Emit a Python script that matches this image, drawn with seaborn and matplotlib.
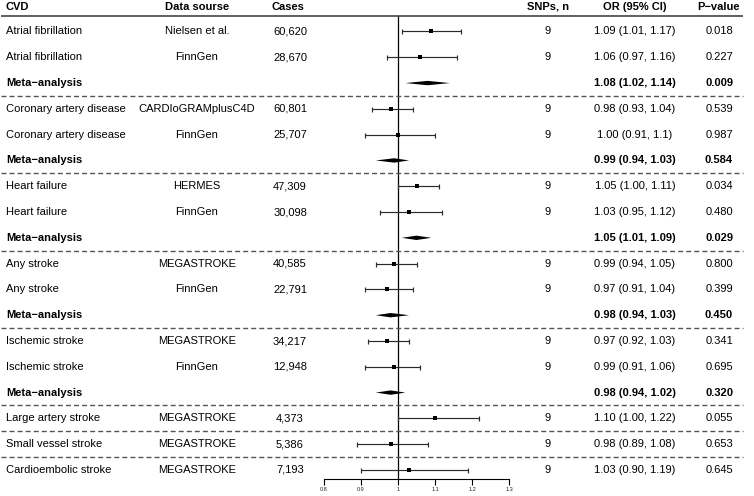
import matplotlib
import matplotlib.pyplot as plt
import matplotlib.transforms as mtransforms
import pandas as pd
import seaborn as sns

matplotlib.use("Agg")

# table columns, one entry per row
cvd = ["Atrial fibrillation", "Atrial fibrillation", "Meta−analysis",
       "Coronary artery disease", "Coronary artery disease", "Meta−analysis",
       "Heart failure", "Heart failure", "Meta−analysis",
       "Any stroke", "Any stroke", "Meta−analysis",
       "Ischemic stroke", "Ischemic stroke", "Meta−analysis",
       "Large artery stroke", "Small vessel stroke", "Cardioembolic stroke"]
source = ["Nielsen et al.", "FinnGen", "", "CARDIoGRAMplusC4D", "FinnGen", "",
          "HERMES", "FinnGen", "", "MEGASTROKE", "FinnGen", "",
          "MEGASTROKE", "FinnGen", "", "MEGASTROKE", "MEGASTROKE", "MEGASTROKE"]
cases = ["60,620", "28,670", "", "60,801", "25,707", "", "47,309", "30,098", "",
         "40,585", "22,791", "", "34,217", "12,948", "", "4,373", "5,386", "7,193"]
snps = ["9", "9", "", "9", "9", "", "9", "9", "", "9", "9", "", "9", "9", "", "9", "9", "9"]
or_est = [1.09, 1.06, 1.08, 0.98, 1.00, 0.99, 1.05, 1.03, 1.05,
          0.99, 0.97, 0.98, 0.97, 0.99, 0.98, 1.10, 0.98, 1.03]
or_lo = [1.01, 0.97, 1.02, 0.93, 0.91, 0.94, 1.00, 0.95, 1.01,
         0.94, 0.91, 0.94, 0.92, 0.91, 0.94, 1.00, 0.89, 0.90]
or_hi = [1.17, 1.16, 1.14, 1.04, 1.10, 1.03, 1.11, 1.12, 1.09,
         1.05, 1.04, 1.03, 1.03, 1.06, 1.02, 1.22, 1.08, 1.19]
or_text = ["1.09 (1.01, 1.17)", "1.06 (0.97, 1.16)", "1.08 (1.02, 1.14)",
           "0.98 (0.93, 1.04)", "1.00 (0.91, 1.1)", "0.99 (0.94, 1.03)",
           "1.05 (1.00, 1.11)", "1.03 (0.95, 1.12)", "1.05 (1.01, 1.09)",
           "0.99 (0.94, 1.05)", "0.97 (0.91, 1.04)", "0.98 (0.94, 1.03)",
           "0.97 (0.92, 1.03)", "0.99 (0.91, 1.06)", "0.98 (0.94, 1.02)",
           "1.10 (1.00, 1.22)", "0.98 (0.89, 1.08)", "1.03 (0.90, 1.19)"]
p_value = ["0.018", "0.227", "0.009", "0.539", "0.987", "0.584", "0.034", "0.480", "0.029",
           "0.800", "0.399", "0.450", "0.341", "0.695", "0.320", "0.055", "0.653", "0.645"]
headers = ["CVD", "Data sourse", "Cases", "SNPs, n", "OR (95% CI)", "P−value"]
x_ticks = [0.8, 0.9, 1.0, 1.1, 1.2, 1.3]
tick_labels = ["0.8", "0.9", "1", "1.1", "1.2", "1.3"]
group_breaks = [2, 5, 8, 11, 14, 15, 16]

df = pd.DataFrame({"cvd": cvd, "est": or_est, "lo": or_lo, "hi": or_hi})
df["row"] = range(len(df))
df["meta"] = df["cvd"].str.startswith("Meta")
studies = df[~df["meta"]]
metas = df[df["meta"]]

sns.set_theme(style="white")
plt.rcParams["font.family"] = ["Liberation Sans", "DejaVu Sans"]

W, H = 754, 496
fig = plt.figure(figsize=(W / 100, H / 100), dpi=100)
ax = fig.add_axes([324 / W, 1 - 479 / H, (509 - 324) / W, (479 - 16) / H])
ax.set_xlim(0.8, 1.3)
ax.set_ylim(17.35, -0.6)

# forest marks
ax.errorbar(studies["est"], studies["row"],
            xerr=[studies["est"] - studies["lo"], studies["hi"] - studies["est"]],
            fmt="none", ecolor="#2b2b2b", elinewidth=0.85, capsize=1.8, capthick=0.85,
            clip_on=False, zorder=2)
sns.scatterplot(data=studies, x="est", y="row", marker="s", s=9, color="black",
                edgecolor="black", linewidth=0, ax=ax, zorder=3, clip_on=False, legend=False)
for _, r in metas.iterrows():
    h = 0.085
    ax.fill([r["lo"], r["est"], r["hi"], r["est"]],
            [r["row"], r["row"] - h, r["row"], r["row"] + h],
            color="black", lw=0, zorder=3, clip_on=False)
ax.axvline(1, color="black", lw=0.9, zorder=1)

# x axis
sns.despine(ax=ax, left=True, top=True, right=True)
ax.spines["bottom"].set_color("black")
ax.spines["bottom"].set_linewidth(0.8)
ax.set_xticks(x_ticks)
ax.set_xticklabels(tick_labels, fontsize=4)
ax.tick_params(axis="x", direction="out", length=4, width=0.8, color="black", pad=1.5,
               bottom=True, labelcolor="#222222")
ax.set_yticks([])
ax.set_xlabel("")
ax.set_ylabel("")

# table text
tr = mtransforms.blended_transform_factory(fig.transFigure, ax.transData)
cols = [(6, "left", cvd), (197, "center", source), (290, "center", cases),
        (548, "center", snps), (635, "center", or_text), (719, "center", p_value)]
head_x = [6, 197, 272, 548, 635, 719]
head_ha = ["left", "center", "left", "center", "center", "center"]
head_y = -0.95
for (px, ha, values), head, hx, hha in zip(cols, headers, head_x, head_ha):
    ax.text(hx / W, head_y, head, transform=tr, ha=hha, va="center",
            fontsize=8, fontweight="bold", color="black", clip_on=False)
    for i, val in enumerate(values):
        bold = df["meta"][i] and (px in (6, 635, 719))
        ax.text(px / W, i, val, transform=tr, ha=ha, va="center", fontsize=8,
                fontweight="bold" if bold else "normal", color="black", clip_on=False)

# header and group separators
ax.plot([1 / W, 743 / W], [-0.6, -0.6], transform=tr, color="#444444", lw=1.2,
        clip_on=False, solid_capstyle="butt")
for b in group_breaks:
    ax.plot([1 / W, 743 / W], [b + 0.5, b + 0.5], transform=tr, color="#555555", lw=1,
            dashes=(3.6, 2.2), clip_on=False)

fig.savefig("out.png", dpi=100)
